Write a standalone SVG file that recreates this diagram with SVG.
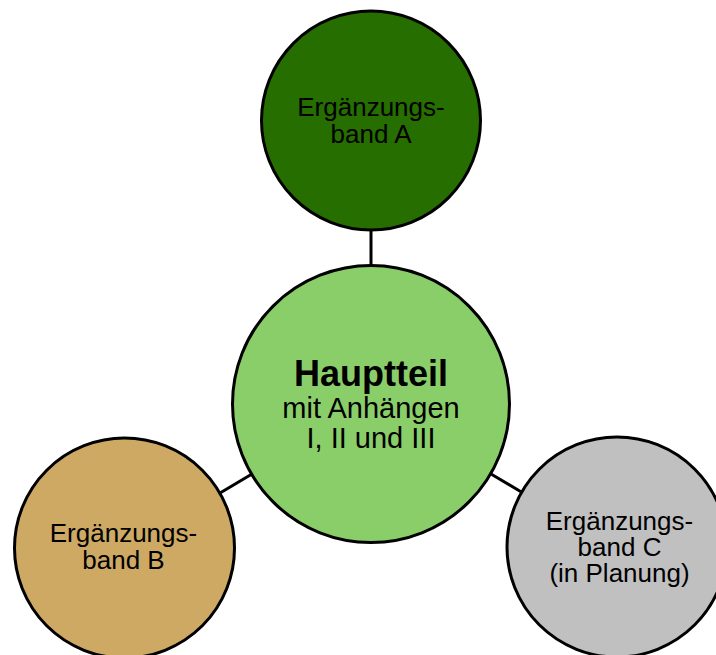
<svg xmlns="http://www.w3.org/2000/svg" width="716" height="655" viewBox="0 0 716 655">
<style>
.node circle{stroke:#000;stroke-width:3}
.t{font-family:"Liberation Sans",Arial,sans-serif;font-size:26px;text-anchor:middle;fill:#000}
.m{font-size:29px}
.b{font-size:36px;font-weight:bold}
.conn line{stroke:#000;stroke-width:3}
</style>
<rect width="716" height="655" fill="#fff"/>
<g id="connectors" class="conn">
<line x1="371" y1="228" x2="371" y2="268"/>
<line x1="220" y1="493" x2="252" y2="474"/>
<line x1="491" y1="474" x2="523" y2="493"/>
</g>
<g id="bandA" class="node">
<circle cx="371" cy="120.5" r="109.5" fill="#266e00"/>
<text class="t" x="371" y="116">Ergänzungs-</text>
<text class="t" x="371" y="143">band A</text>
</g>
<g id="hauptteil" class="node">
<circle cx="371" cy="404" r="138.5" fill="#8ace6a"/>
<text class="t b" x="371" y="386">Hauptteil</text>
<text class="t m" x="371" y="418">mit Anhängen</text>
<text class="t m" x="371" y="448">I, II und III</text>
</g>
<g id="bandB" class="node">
<circle cx="124.5" cy="548" r="110" fill="#cda964"/>
<text class="t" x="123.5" y="542">Ergänzungs-</text>
<text class="t" x="123.5" y="568.5">band B</text>
</g>
<g id="bandC" class="node">
<circle cx="617" cy="547" r="110" fill="#c0c0c0"/>
<text class="t" x="619.5" y="529.5">Ergänzungs-</text>
<text class="t" x="619.5" y="556">band C</text>
<text class="t" x="619.5" y="582">(in Planung)</text>
</g>
</svg>
